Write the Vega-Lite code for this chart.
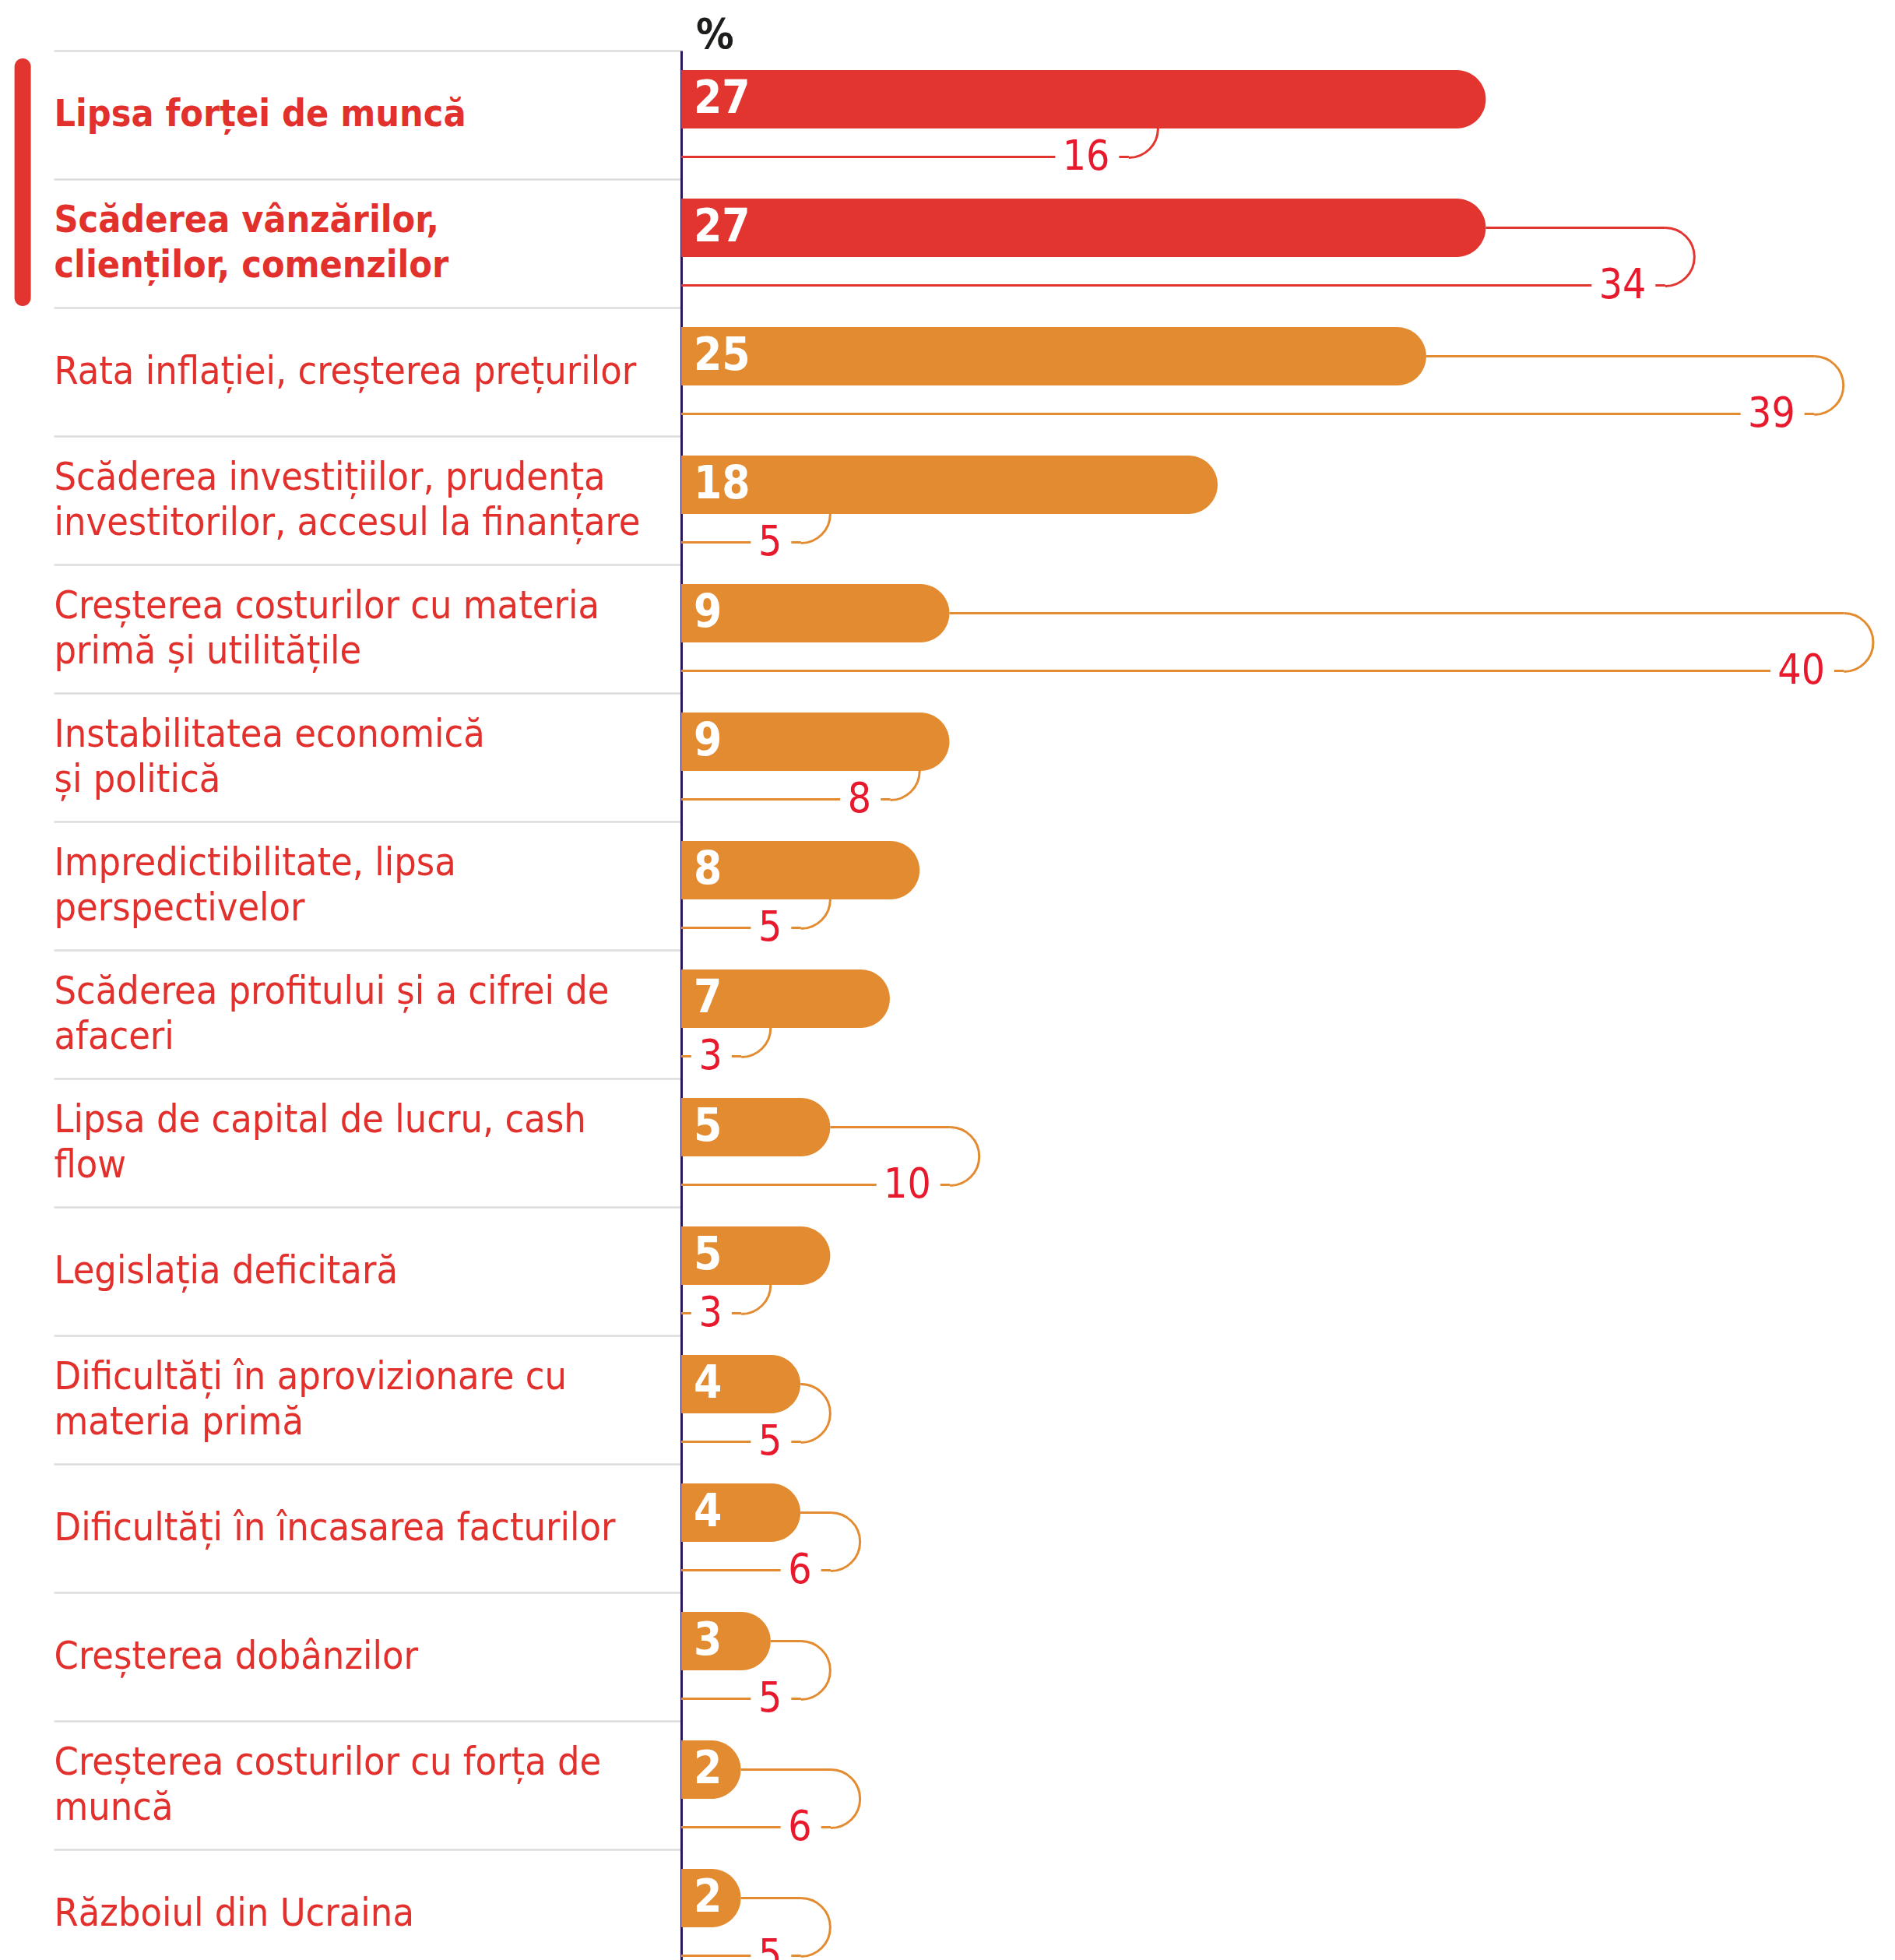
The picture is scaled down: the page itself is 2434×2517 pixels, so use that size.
{
  "$schema": "https://vega.github.io/schema/vega-lite/v6.json",
  "autosize": "none",
  "width": 1531,
  "height": 2452,
  "padding": {"left": 875, "top": 65, "right": 28, "bottom": 0},
  "background": "white",
  "config": {"view": {"stroke": null}, "font": "DejaVu Sans Condensed, Liberation Sans Narrow, DejaVu Sans, sans-serif"},
  "title": {"text": "%", "anchor": "start", "frame": "group", "dx": 19, "dy": 56, "offset": 4, "baseline": "alphabetic", "fontSize": 54, "fontWeight": "bold", "font": "DejaVu Sans Condensed, DejaVu Sans, sans-serif", "color": "#1d1d1b"},
  "data": {"values": [
    {"cat": "Lipsa forței de muncă", "cur": 27, "prev": 16, "group": "top"},
    {"cat": "Scăderea vânzărilor,\nclienților, comenzilor", "cur": 27, "prev": 34, "group": "top"},
    {"cat": "Rata inflației, creșterea prețurilor", "cur": 25, "prev": 39, "group": "other"},
    {"cat": "Scăderea investițiilor, prudența\ninvestitorilor, accesul la finanțare", "cur": 18, "prev": 5, "group": "other"},
    {"cat": "Creșterea costurilor cu materia\nprimă și utilitățile", "cur": 9, "prev": 40, "group": "other"},
    {"cat": "Instabilitatea economică\nși politică", "cur": 9, "prev": 8, "group": "other"},
    {"cat": "Impredictibilitate, lipsa\nperspectivelor", "cur": 8, "prev": 5, "group": "other"},
    {"cat": "Scăderea profitului și a cifrei de\nafaceri", "cur": 7, "prev": 3, "group": "other"},
    {"cat": "Lipsa de capital de lucru, cash\nflow", "cur": 5, "prev": 10, "group": "other"},
    {"cat": "Legislația deficitară", "cur": 5, "prev": 3, "group": "other"},
    {"cat": "Dificultăți în aprovizionare cu\nmateria primă", "cur": 4, "prev": 5, "group": "other"},
    {"cat": "Dificultăți în încasarea facturilor", "cur": 4, "prev": 6, "group": "other"},
    {"cat": "Creșterea dobânzilor", "cur": 3, "prev": 5, "group": "other"},
    {"cat": "Creșterea costurilor cu forța de\nmuncă", "cur": 2, "prev": 6, "group": "other"},
    {"cat": "Războiul din Ucraina", "cur": 2, "prev": 5, "group": "other"}
  ]},
  "encoding": {
    "y": {
      "field": "cat", "type": "nominal", "sort": null,
      "scale": {
        "domain": ["Lipsa forței de muncă", "Scăderea vânzărilor,\nclienților, comenzilor", "Rata inflației, creșterea prețurilor", "Scăderea investițiilor, prudența\ninvestitorilor, accesul la finanțare", "Creșterea costurilor cu materia\nprimă și utilitățile", "Instabilitatea economică\nși politică", "Impredictibilitate, lipsa\nperspectivelor", "Scăderea profitului și a cifrei de\nafaceri", "Lipsa de capital de lucru, cash\nflow", "Legislația deficitară", "Dificultăți în aprovizionare cu\nmateria primă", "Dificultăți în încasarea facturilor", "Creșterea dobânzilor", "Creșterea costurilor cu forța de\nmuncă", "Războiul din Ucraina"],
        "range": [0, 2475], "paddingInner": 0, "paddingOuter": 0
      },
      "axis": {
        "title": null, "orient": "left",
        "domain": true, "domainColor": "#2a1659", "domainWidth": 3,
        "ticks": true, "tickSize": 806, "tickColor": "#dcdcdc", "tickWidth": 2.5, "bandPosition": 0,
        "labelAlign": "left", "labelBaseline": "middle", "labelPadding": 0,
        "labelFont": "DejaVu Sans Condensed, Liberation Sans Narrow, DejaVu Sans, sans-serif", "labelLimit": 0, "labelColor": "#e2302d",
        "labelLineHeight": 58,
        "labelExpr": "split(datum.label, '\\n')",
        "labelOffset": {"condition": {"test": "indexof(datum.value, '\\n') >= 0", "value": -29}, "value": 0},
        "labelFontSize": {"condition": {"test": "indexof(datum.value, 'Lipsa forței') == 0 || indexof(datum.value, 'vânzărilor') >= 0", "value": 48}, "value": 50},
        "labelFontWeight": {"condition": {"test": "indexof(datum.value, 'Lipsa forței') == 0 || indexof(datum.value, 'vânzărilor') >= 0", "value": "bold"}, "value": "normal"}
      }
    }
  },
  "layer": [
    {
      "mark": {"type": "bar", "height": 3, "yOffset": 54, "xOffset": -37.5, "x2Offset": 0},
      "encoding": {
        "x": {"field": "prev", "type": "quantitative", "axis": null, "stack": null, "scale": {"domain": [0, 40], "nice": false, "zero": true}},
        "color": {"field": "group", "type": "nominal", "scale": {"domain": ["top", "other"], "range": ["#e2352f", "#e38b31"]}, "legend": null}
      }
    },
    {
      "transform": [{"filter": "datum.prev > datum.cur"}],
      "mark": {"type": "bar", "height": 3, "yOffset": -20, "x2Offset": -37.5},
      "encoding": {
        "x": {"field": "cur", "type": "quantitative", "axis": null},
        "x2": {"field": "prev"},
        "color": {"field": "group", "type": "nominal", "legend": null}
      }
    },
    {
      "transform": [{"filter": "datum.prev > datum.cur"}],
      "mark": {"type": "point", "filled": false, "opacity": 1, "strokeWidth": 3, "size": 4, "xOffset": -37.5, "yOffset": 17.5, "shape": "M0,-37.5A37.5,37.5 0 0 1 0,37.5"},
      "encoding": {
        "x": {"field": "prev", "type": "quantitative", "axis": null},
        "color": {"field": "group", "type": "nominal", "legend": null}
      }
    },
    {
      "transform": [{"filter": "datum.prev < datum.cur"}],
      "mark": {"type": "point", "filled": false, "opacity": 1, "strokeWidth": 3, "size": 4, "xOffset": -37.5, "yOffset": 17.5, "shape": "M37.5,0A37.5,37.5 0 0 1 0,37.5"},
      "encoding": {
        "x": {"field": "prev", "type": "quantitative", "axis": null},
        "color": {"field": "group", "type": "nominal", "legend": null}
      }
    },
    {
      "transform": [{"filter": "datum.prev >= 10"}],
      "mark": {"type": "point", "filled": true, "color": "white", "opacity": 1, "strokeWidth": 0, "size": 4, "xOffset": -50, "yOffset": 54, "shape": "M0,-6L-82,-6L-82,6L0,6Z"},
      "encoding": {
        "x": {"field": "prev", "type": "quantitative", "axis": null}
      }
    },
    {
      "transform": [{"filter": "datum.prev < 10"}],
      "mark": {"type": "point", "filled": true, "color": "white", "opacity": 1, "strokeWidth": 0, "size": 4, "xOffset": -50, "yOffset": 54, "shape": "M0,-6L-52,-6L-52,6L0,6Z"},
      "encoding": {
        "x": {"field": "prev", "type": "quantitative", "axis": null}
      }
    },
    {
      "mark": {"type": "bar", "height": 75, "yOffset": -20, "cornerRadiusEnd": 37.5},
      "encoding": {
        "x": {"field": "cur", "type": "quantitative", "axis": null, "stack": null},
        "color": {"field": "group", "type": "nominal", "legend": null}
      }
    },
    {
      "mark": {"type": "text", "align": "left", "baseline": "middle", "dx": 16, "yOffset": -20, "fontSize": 58, "fontWeight": "bold", "color": "white"},
      "encoding": {
        "x": {"datum": 0, "type": "quantitative", "axis": null},
        "text": {"field": "cur", "type": "quantitative"}
      }
    },
    {
      "mark": {"type": "text", "align": "right", "baseline": "middle", "dx": -62, "yOffset": 54, "fontSize": 53, "color": "#e8192c"},
      "encoding": {
        "x": {"field": "prev", "type": "quantitative", "axis": null},
        "text": {"field": "prev", "type": "quantitative"}
      }
    },
    {
      "data": {"values": [{"cat": "Lipsa forței de muncă"}]},
      "mark": {"type": "point", "filled": true, "color": "#e2352f", "opacity": 1, "strokeWidth": 0, "size": 4, "yOffset": 86.5, "shape": "M-10.5,-148.5A10.5,10.5 0 0 1 10.5,-148.5L10.5,148.5A10.5,10.5 0 0 1 -10.5,148.5Z"},
      "encoding": {
        "x": {"datum": -22.1, "type": "quantitative", "axis": null}
      }
    }
  ]
}
